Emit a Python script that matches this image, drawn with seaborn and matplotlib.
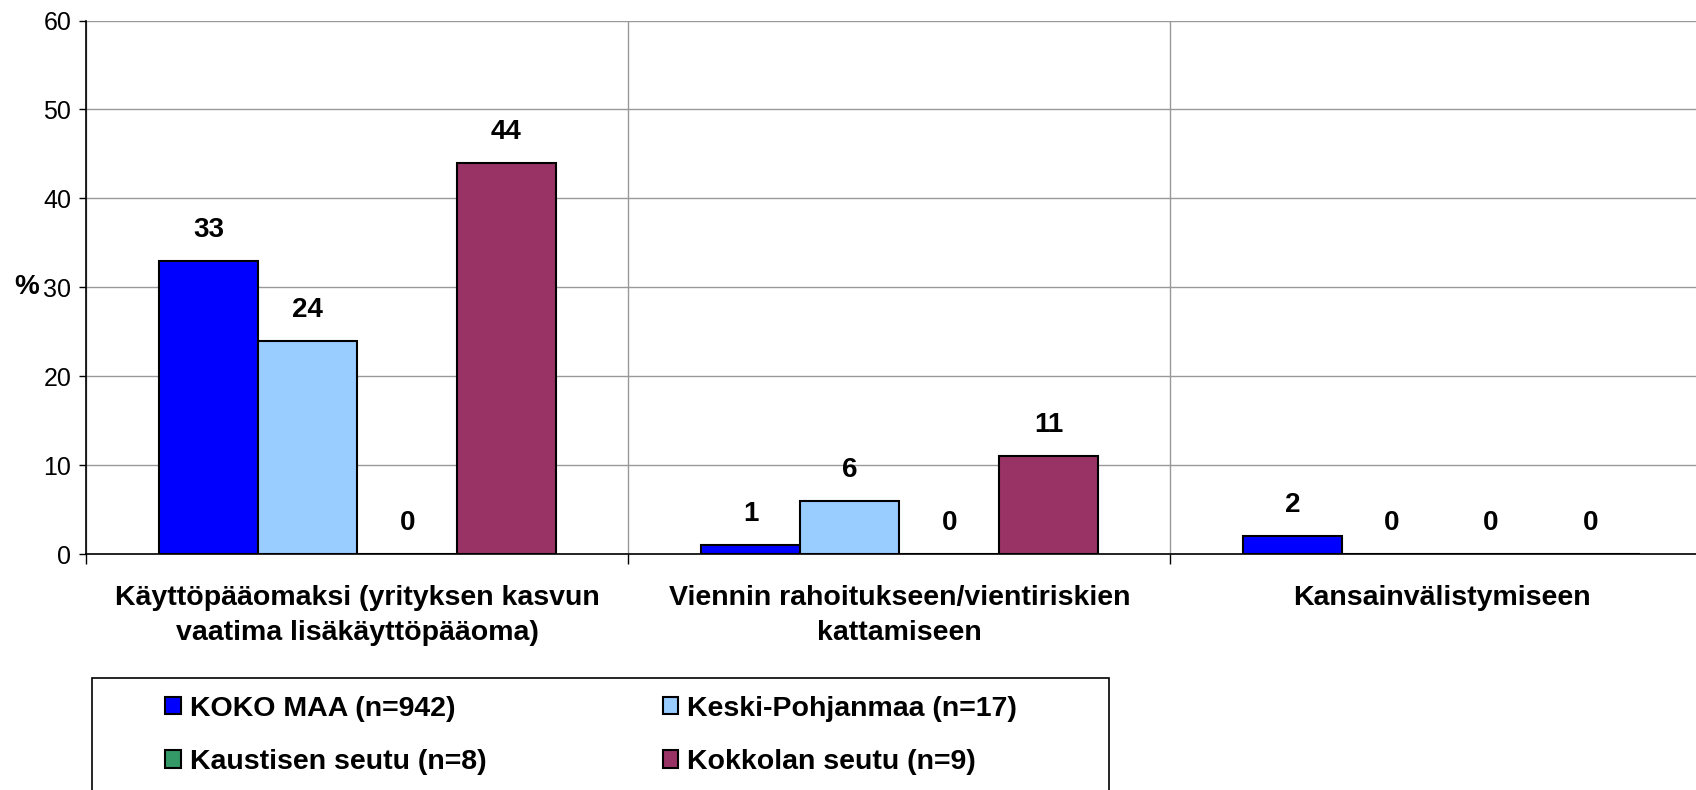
import numpy as np
import pandas as pd
import matplotlib
matplotlib.use("Agg")
import matplotlib.pyplot as plt
from matplotlib.patches import Rectangle
import seaborn as sns

# Data
categories = ["Käyttöpääomaksi (yrityksen kasvun\nvaatima lisäkäyttöpääoma)",
              "Viennin rahoitukseen/vientiriskien\nkattamiseen",
              "Kansainvälistymiseen"]
groups = ["KOKO MAA (n=942)", "Keski-Pohjanmaa (n=17)",
          "Kaustisen seutu (n=8)", "Kokkolan seutu (n=9)"]
koko_maa = [33, 1, 2]
keski_pohjanmaa = [24, 6, 0]
kaustisen_seutu = [0, 0, 0]
kokkolan_seutu = [44, 11, 0]
colors = ["#0000FF", "#99CCFF", "#339966", "#993366"]
y_ticks = [0, 10, 20, 30, 40, 50, 60]

values = [koko_maa, keski_pohjanmaa, kaustisen_seutu, kokkolan_seutu]
df = pd.DataFrame({
    "category": [c for _ in groups for c in categories],
    "group": [g for g in groups for _ in categories],
    "value": [v for vals in values for v in vals],
})

sns.set_theme(style="white")
plt.rcParams["font.family"] = ["Liberation Sans", "DejaVu Sans"]
plt.rcParams["text.color"] = "black"
plt.rcParams["axes.labelcolor"] = "black"
plt.rcParams["xtick.color"] = "black"
plt.rcParams["ytick.color"] = "black"

fig = plt.figure(figsize=(16.96, 7.9), dpi=100)
ax = fig.add_axes([0.0510, 0.2987, 0.9587, 0.6753])

sns.barplot(data=df, x="category", y="value", hue="group", order=categories,
            hue_order=groups, palette=colors, saturation=1, width=0.733,
            edgecolor="black", linewidth=1.5, legend=True, ax=ax)

for cont in ax.containers:
    ax.bar_label(cont, fmt="%g", padding=13, fontsize=20, fontweight="bold",
                 color="black")

ax.set_xlim(-0.5, 2.5)
ax.set_ylim(0, 60)
ax.set_yticks(y_ticks)
ax.tick_params(axis="y", labelsize=18, length=5, width=1, color="black",
               left=True, pad=6)
ax.tick_params(axis="x", which="major", labelsize=20.5, length=0, pad=22)
ax.set_xticks([-0.5, 0.5, 1.5, 2.5], minor=True)
ax.tick_params(axis="x", which="minor", length=7, width=1, color="black",
               bottom=True, direction="out")
for lbl in ax.get_xticklabels():
    lbl.set_fontweight("bold")
    lbl.set_linespacing(1.45)

ax.grid(axis="y", color="#999999", linewidth=1)
ax.grid(axis="x", which="minor", color="#999999", linewidth=1)
ax.grid(axis="x", which="major", visible=False)
ax.set_axisbelow(True)

for side in ["top", "right"]:
    ax.spines[side].set_visible(False)
for side in ["left", "bottom"]:
    ax.spines[side].set_color("black")
    ax.spines[side].set_linewidth(1.2)

ax.set_xlabel("")
ax.set_ylabel("%", rotation=0, fontsize=20, fontweight="bold",
              ha="center", va="center")
ax.yaxis.set_label_coords(-0.037, 0.5)

# legend, filled row by row like the original
handles, labels = ax.get_legend_handles_labels()
ax.get_legend().remove()
order = [0, 2, 1, 3]
fig.patches.append(Rectangle((0.0542, -0.01), 0.5997, 0.1518,
                             transform=fig.transFigure, facecolor="white",
                             edgecolor="black", linewidth=1.2))
fig.legend([handles[i] for i in order], [labels[i] for i in order],
           loc="center left", bbox_to_anchor=(0.0975, 0.069),
           ncol=2, frameon=False, borderpad=0, borderaxespad=0,
           handlelength=0.55, handleheight=0.55, handletextpad=0.3,
           columnspacing=6.2, labelspacing=0.95,
           prop={"size": 20.5, "weight": "bold"})

fig.savefig("out.png", dpi=100)
